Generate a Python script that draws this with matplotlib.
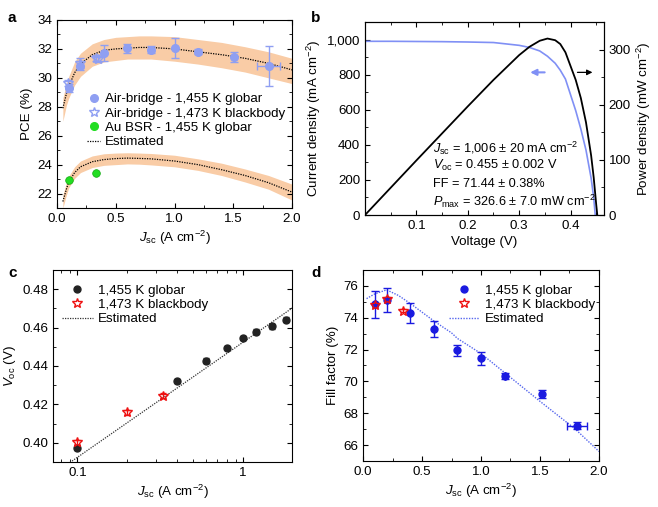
import matplotlib
matplotlib.use('Agg')
import matplotlib.pyplot as plt
from matplotlib.lines import Line2D
from matplotlib.ticker import MultipleLocator, NullFormatter, FuncFormatter

FS = 9.6
plt.rcParams['font.family'] = ['Liberation Sans', 'DejaVu Sans']
plt.rcParams['mathtext.fontset'] = 'custom'
plt.rcParams['mathtext.rm'] = 'Liberation Sans'
plt.rcParams['mathtext.it'] = 'Liberation Sans:italic'
plt.rcParams['font.size'] = FS
plt.rcParams['axes.linewidth'] = 0.8

# ---- panel a data
a_glob_x = [0.1, 0.2, 0.4, 0.6, 0.8, 1.0, 1.2, 1.51, 1.8]
a_glob_y = [29.3, 30.85, 31.7, 32.05, 31.95, 32.05, 31.8, 31.45, 30.8]
a_glob_yerr = [0.25, 0.3, 0.55, 0.3, 0.25, 0.68, 0.18, 0.37, 1.37]
a_glob_xerr = [0, 0, 0, 0, 0, 0, 0, 0, 0.095]
a_bb_x = [0.09, 0.2, 0.33, 0.35]
a_bb_y = [29.66, 31.0, 31.35, 31.3]
a_bb_yerr = [0.2, 0.35, 0.2, 0.2]
a_au_x = [0.1, 0.33]
a_au_y = [22.95, 23.42]
a_est_x = [0.05, 0.08, 0.1, 0.15, 0.2, 0.3, 0.4, 0.5, 0.6, 0.7, 0.8, 1.0, 1.2, 1.4, 1.6, 1.8, 2.0]
a_est_up = [27.9, 28.9, 29.4, 30.35, 30.95, 31.6, 31.9, 32.0, 32.05, 32.1, 32.1, 32.0, 31.8, 31.6, 31.35, 31.0, 30.55]
a_band_up_hi = [28.6, 29.6, 30.1, 31.1, 31.7, 32.35, 32.65, 32.8, 32.85, 32.9, 32.9, 32.85, 32.65, 32.45, 32.15, 31.8, 31.35]
a_band_up_lo = [27.0, 28.1, 28.6, 29.5, 30.1, 30.8, 31.1, 31.2, 31.3, 31.3, 31.3, 31.15, 30.95, 30.7, 30.4, 30.0, 29.6]
a_est_low = [21.45, 22.3, 22.8, 23.45, 23.85, 24.2, 24.35, 24.42, 24.45, 24.43, 24.4, 24.25, 24.0, 23.65, 23.25, 22.75, 22.1]
a_band_low_hi = [21.9, 22.75, 23.2, 23.85, 24.25, 24.6, 24.75, 24.8, 24.82, 24.8, 24.77, 24.65, 24.4, 24.1, 23.7, 23.25, 22.65]
a_band_low_lo = [21.0, 21.9, 22.4, 23.05, 23.45, 23.8, 23.95, 24.0, 24.05, 24.03, 23.98, 23.85, 23.6, 23.25, 22.8, 22.3, 21.55]

# ---- panel b data
b_jv_v = [0, 0.05, 0.1, 0.15, 0.2, 0.25, 0.3, 0.32, 0.34, 0.355, 0.37, 0.38, 0.39, 0.40,
          0.41, 0.42, 0.43, 0.44, 0.445, 0.448]
b_j = [990, 990, 989, 988, 986, 983, 967, 955, 935, 905, 865, 825, 775, 685,
       595, 490, 370, 210, 100, 0]
b_pv_v = [0, 0.05, 0.1, 0.15, 0.2, 0.25, 0.3, 0.32, 0.34, 0.355, 0.37, 0.38, 0.39, 0.40,
          0.41, 0.42, 0.43, 0.44, 0.445, 0.45, 0.452]
b_p = [0, 49.5, 99, 148, 197, 245, 290, 305, 316, 320, 317, 310, 295, 270,
       245, 212, 168, 108, 68, 18, 0]

# ---- panel c data
c_glob_x = [0.1, 0.4, 0.6, 0.8, 1.0, 1.2, 1.5, 1.8]
c_glob_y = [0.3975, 0.4322, 0.4427, 0.4494, 0.4546, 0.4578, 0.4606, 0.4641]
c_bb_x = [0.1, 0.2, 0.33]
c_bb_y = [0.4003, 0.4158, 0.4245]
c_est_x = [0.0878, 2.0]
c_est_y = [0.389, 0.4705]

# ---- panel d data
d_glob_x = [0.1, 0.2, 0.4, 0.6, 0.8, 1.0, 1.2, 1.52, 1.81]
d_glob_y = [74.85, 75.1, 74.3, 73.3, 71.95, 71.45, 70.35, 69.2, 67.22]
d_glob_yerr = [0.85, 0.75, 0.62, 0.5, 0.35, 0.4, 0.2, 0.25, 0.2]
d_glob_xerr = [0, 0, 0, 0, 0, 0, 0, 0, 0.085]
d_bb_x = [0.1, 0.2, 0.34]
d_bb_y = [74.8, 75.15, 74.45]
d_bb_yerr = [0.15, 0.15, 0.12]
d_est_x = [0.03, 0.1, 0.2, 0.3, 0.4, 0.5, 0.6, 0.75, 0.8, 1.0, 1.2, 1.4, 1.5, 1.8, 2.0]
d_est_y = [75.2, 75.5, 75.75, 75.4, 74.9, 74.35, 73.8, 73.05, 72.7, 71.75, 70.55, 69.35, 68.75, 67.0, 65.6]

LB = '#8f9ff2'
BAND = '#f9cca6'
JSC = r'$J_{\rm sc}$ (A cm$^{-2}$)'

fig = plt.figure(figsize=(6.58, 5.07), dpi=100)
ax_a = fig.add_axes([0.0866, 0.5897, 0.3572, 0.3709])
ax_b = fig.add_axes([0.5547, 0.5759, 0.3632, 0.3807])
ax_c = fig.add_axes([0.0805, 0.0888, 0.3633, 0.3787])
ax_d = fig.add_axes([0.5517, 0.0907, 0.3586, 0.3768])


def style(ax):
    ax.tick_params(which='both', direction='in', top=True, right=True, labelsize=FS)
    ax.tick_params(which='major', length=3.5)
    ax.tick_params(which='minor', length=2)


# ---- a
ax_a.fill_between(a_est_x, a_band_up_lo, a_band_up_hi, color=BAND, lw=0)
ax_a.fill_between(a_est_x, a_band_low_lo, a_band_low_hi, color=BAND, lw=0)
ax_a.plot(a_est_x, a_est_up, ls=(0, (1, 1)), color='k', lw=0.9)
ax_a.plot(a_est_x, a_est_low, ls=(0, (1, 1)), color='k', lw=0.9)
ax_a.errorbar(a_bb_x, a_bb_y, yerr=a_bb_yerr, fmt='*', ms=7.5, mfc='none', mec=LB,
              ecolor=LB, capsize=3, lw=1, mew=1)
ax_a.errorbar(a_glob_x, a_glob_y, yerr=a_glob_yerr, xerr=a_glob_xerr, fmt='o', ms=5.5,
              color=LB, ecolor=LB, capsize=3, lw=1)
ax_a.plot(a_au_x, a_au_y, 'o', ms=5.5, color='#22dd22', mec='#11aa11', mew=0.5)
ax_a.set_xlim(0, 2)
ax_a.set_ylim(21, 34)
ax_a.xaxis.set_major_locator(MultipleLocator(0.5))
ax_a.xaxis.set_minor_locator(MultipleLocator(0.25))
ax_a.xaxis.set_major_formatter(FuncFormatter(lambda v, p: '%.1f' % v))
ax_a.yaxis.set_major_locator(MultipleLocator(2))
ax_a.yaxis.set_minor_locator(MultipleLocator(1))
ax_a.set_xlabel(JSC, labelpad=3)
ax_a.set_ylabel('PCE (%)', labelpad=3)
style(ax_a)
handles = [Line2D([], [], marker='o', ls='none', color=LB, ms=5.5),
           Line2D([], [], marker='*', ls='none', mfc='none', mec=LB, ms=7.5),
           Line2D([], [], marker='o', ls='none', color='#22dd22', ms=5.5),
           Line2D([], [], ls=(0, (1, 1)), color='k', lw=0.9)]
ax_a.legend(handles, ['Air-bridge - 1,455 K globar', 'Air-bridge - 1,473 K blackbody',
                      'Au BSR - 1,455 K globar', 'Estimated'],
            loc='upper left', bbox_to_anchor=(0.1, 0.648), frameon=False, fontsize=FS,
            handlelength=1.0, handletextpad=0.35, labelspacing=0.15, borderpad=0)

# ---- b
ax_b.plot(b_jv_v, b_j, color='#8090f5', lw=1.2)
ax_b.set_xlim(0, 0.465)
ax_b.set_ylim(0, 1100)
ax_b.xaxis.set_minor_locator(MultipleLocator(0.05))
ax_b.yaxis.set_major_locator(MultipleLocator(200))
ax_b.yaxis.set_minor_locator(MultipleLocator(100))
ax_b.yaxis.set_major_formatter(FuncFormatter(lambda v, p: '{:,.0f}'.format(v)))
ax_b.set_xticks([0.1, 0.2, 0.3, 0.4])
ax_b.set_xlabel('Voltage (V)', labelpad=3)
ax_b.set_ylabel('Current density (mA cm$^{-2}$)', labelpad=3)
ax_b.tick_params(which='both', direction='in', top=True, right=False, labelsize=FS)
ax_b.tick_params(which='major', length=3.5)
ax_b.tick_params(which='minor', length=2)
ax_b2 = ax_b.twinx()
ax_b2.plot(b_pv_v, b_p, color='k', lw=1.3)
ax_b2.set_ylim(0, 350)
ax_b2.yaxis.set_major_locator(MultipleLocator(100))
ax_b2.yaxis.set_minor_locator(MultipleLocator(50))
ax_b2.tick_params(which='both', direction='in', labelsize=FS)
ax_b2.tick_params(which='major', length=3.5)
ax_b2.tick_params(which='minor', length=2)
ax_b2.set_ylabel('Power density (mW cm$^{-2}$)', labelpad=3)
ax_b.annotate('', xy=(0.316, 813), xytext=(0.355, 813),
              arrowprops=dict(arrowstyle='-|>', color='#8090f5', lw=1.5, mutation_scale=9))
ax_b.annotate('', xy=(0.448, 813), xytext=(0.408, 813),
              arrowprops=dict(arrowstyle='-|>', color='k', lw=0.9, mutation_scale=8))
b_txt = [r'$J_{\rm sc}$ = 1,006 ± 20 mA cm$^{-2}$',
         r'$V_{\rm oc}$ = 0.455 ± 0.002 V',
         'FF = 71.44 ± 0.38%',
         r'$P_{\rm max}$ = 326.6 ± 7.0 mW cm$^{-2}$']
for t, yy in zip(b_txt, [380, 282, 178, 80]):
    ax_b.text(0.133, yy, t, fontsize=9.2, va='center')

# ---- c
ax_c.set_xscale('log')
ax_c.plot(c_est_x, c_est_y, ls=(0, (1, 1)), color='#333333', lw=0.9)
ax_c.errorbar(c_glob_x, c_glob_y, yerr=0.0012, fmt='o', ms=5, color='#222222',
              ecolor='#222222', capsize=2.5, lw=1)
ax_c.errorbar(c_bb_x, c_bb_y, yerr=0.0012, fmt='*', ms=7.5, mfc='none', mec='#ee1111',
              ecolor='#ee1111', capsize=2.5, lw=1, mew=1)
ax_c.set_xlim(0.0713, 1.97)
ax_c.set_ylim(0.39, 0.49)
ax_c.set_xticks([0.1, 1])
ax_c.set_xticklabels(['0.1', '1'])
ax_c.xaxis.set_minor_formatter(NullFormatter())
ax_c.yaxis.set_major_locator(MultipleLocator(0.02))
ax_c.yaxis.set_minor_locator(MultipleLocator(0.01))
ax_c.yaxis.set_major_formatter(FuncFormatter(lambda v, p: '%.2f' % v))
ax_c.set_xlabel(JSC, labelpad=3)
ax_c.set_ylabel(r'$V_{\rm oc}$ (V)', labelpad=3)
style(ax_c)
handles = [Line2D([], [], marker='o', ls='none', color='#222222', ms=5),
           Line2D([], [], marker='*', ls='none', mfc='none', mec='#ee1111', ms=7.5),
           Line2D([], [], ls=(0, (1, 1)), color='#333333', lw=0.9)]
ax_c.legend(handles, ['1,455 K globar', '1,473 K blackbody', 'Estimated'],
            loc='upper left', bbox_to_anchor=(0.01, 0.96), frameon=False, fontsize=FS,
            handlelength=2.3, handletextpad=0.4, labelspacing=0.15, borderpad=0)

# ---- d
ax_d.plot(d_est_x, d_est_y, ls=(0, (1, 1)), color='#5566ee', lw=1)
ax_d.errorbar(d_glob_x, d_glob_y, yerr=d_glob_yerr, xerr=d_glob_xerr, fmt='o', ms=5,
              color='#1a1ae0', ecolor='#1a1ae0', capsize=3, lw=1)
ax_d.errorbar(d_bb_x, d_bb_y, yerr=d_bb_yerr, fmt='*', ms=7.5, mfc='none', mec='#ee1111',
              ecolor='#ee1111', capsize=2.5, lw=1, mew=1)
ax_d.set_xlim(0, 2)
ax_d.set_ylim(65, 77)
ax_d.xaxis.set_major_locator(MultipleLocator(0.5))
ax_d.xaxis.set_minor_locator(MultipleLocator(0.25))
ax_d.xaxis.set_major_formatter(FuncFormatter(lambda v, p: '%.1f' % v))
ax_d.yaxis.set_major_locator(MultipleLocator(2))
ax_d.yaxis.set_minor_locator(MultipleLocator(1))
ax_d.set_xlabel(JSC, labelpad=3)
ax_d.set_ylabel('Fill factor (%)', labelpad=3)
style(ax_d)
handles = [Line2D([], [], marker='o', ls='none', color='#1a1ae0', ms=5),
           Line2D([], [], marker='*', ls='none', mfc='none', mec='#ee1111', ms=7.5),
           Line2D([], [], ls=(0, (1, 1)), color='#5566ee', lw=1)]
ax_d.legend(handles, ['1,455 K globar', '1,473 K blackbody', 'Estimated'],
            loc='upper left', bbox_to_anchor=(0.335, 0.96), frameon=False, fontsize=FS,
            handlelength=2.3, handletextpad=0.4, labelspacing=0.15, borderpad=0)

for lab, x, y in [('a', 0.012, 0.965), ('b', 0.473, 0.965), ('c', 0.012, 0.462), ('d', 0.473, 0.462)]:
    fig.text(x, y, lab, fontsize=11, fontweight='bold', va='center')

fig.savefig('out.png', dpi=100)
